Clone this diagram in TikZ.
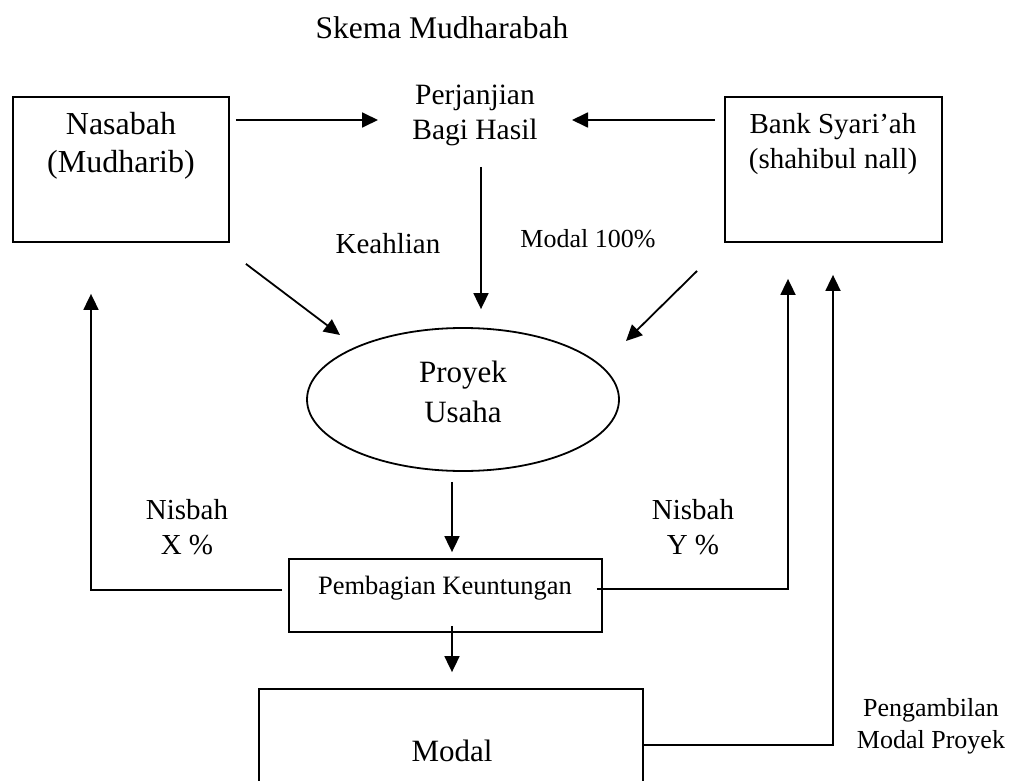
\documentclass[tikz,border=0pt]{standalone}
\usepackage{fontspec}
\setmainfont{Liberation Serif}
\usetikzlibrary{arrows.meta,shapes.geometric}
\begin{document}
\begin{tikzpicture}[x=1pt,y=-1pt,
  box/.style={draw,line width=1.8pt,rectangle,inner sep=0pt},
  oval/.style={draw,line width=1.8pt,ellipse,inner sep=0pt},
  txt/.style={align=center,inner sep=0pt},
  arr/.style={line width=1.8pt,-{Triangle[length=16pt,width=15pt]}},
  fs/.style={font=\fontsize{#1}{35}\selectfont}]
\useasboundingbox (0,0) rectangle (1018,781);
\clip (0,0) rectangle (1018,781);

% title
\node[txt,fs=31.5] (title) at (442,28) {Skema Mudharabah};

% parties
\node[box,minimum width=216,minimum height=145] (nasabah) at (121,169.5) {};
\node[txt,font=\fontsize{32}{38}\selectfont] (nasabahtxt) at (121,146) {Nasabah\\(Mudharib)};
\node[box,minimum width=217,minimum height=145] (bank) at (833.5,169.5) {};
\node[txt,font=\fontsize{29}{35}\selectfont] (banktxt) at (833,144.5) {Bank Syari’ah\\(shahibul nall)};

% agreement
\node[txt,font=\fontsize{29.5}{35}\selectfont] (perj) at (475,115.5) {Perjanjian\\Bagi Hasil};

% project
\node[oval,minimum width=312,minimum height=143] (proyek) at (463,399.5) {};
\node[txt,font=\fontsize{31}{40}\selectfont] (proyektxt) at (463,392) {Proyek\\Usaha};

% profit sharing
\node[box,minimum width=313,minimum height=73] (pemb) at (445.5,595.5) {};
\node[txt,fs=26.5] (pembtxt) at (445,588) {Pembagian Keuntungan};

% capital
\node[box,minimum width=384,minimum height=141] (modal) at (451,759.5) {};
\node[txt,fs=31] (modaltxt) at (452,751) {Modal};

% labels
\node[txt,fs=29] (keahlian) at (388,244) {Keahlian};
\node[txt,fs=26] (modal100) at (588,239) {Modal 100\%};
\node[txt,font=\fontsize{29}{35}\selectfont] (nisbahx) at (187,527.5) {Nisbah\\X \%};
\node[txt,font=\fontsize{29}{35}\selectfont] (nisbahy) at (693,527.5) {Nisbah\\Y \%};
\node[txt,font=\fontsize{26}{32}\selectfont] (ambil) at (931,726) {Pengambilan\\Modal Proyek};

% connectors
\draw[arr] ([shift={(6,-49.5)}]nasabah.east) -- ([shift={(-97,4.5)}]perj.center);
\draw[arr] ([shift={(-9,-49.5)}]bank.west) -- ([shift={(97,4.5)}]perj.center);
\draw[arr] ([shift={(6,51.5)}]perj.center) -- ([shift={(18,-18)}]proyek.north);
\draw[arr] ([shift={(16,21)}]nasabah.south east) -- ([shift={(-123,-64.5)}]proyek.center);
\draw[arr] ([shift={(-27,28)}]bank.south west) -- ([shift={(163,-58.5)}]proyek.center);
\draw[arr] ([shift={(-11,10)}]proyek.south) -- ([shift={(6.5,-6)}]pemb.north);
\draw[arr] ([shift={(-6,-5.5)}]pemb.west) -| ([shift={(-30,51)}]nasabah.south);
\draw[arr] ([shift={(-6,-6.5)}]pemb.east) -| ([shift={(-45.5,36)}]bank.south);
\draw[arr] ([shift={(6.5,-7)}]pemb.south) -- ([shift={(1,-16)}]modal.north);
\draw[arr] ([shift={(0,-14.5)}]modal.east) -| ([shift={(-0.5,32)}]bank.south);
\end{tikzpicture}
\end{document}
